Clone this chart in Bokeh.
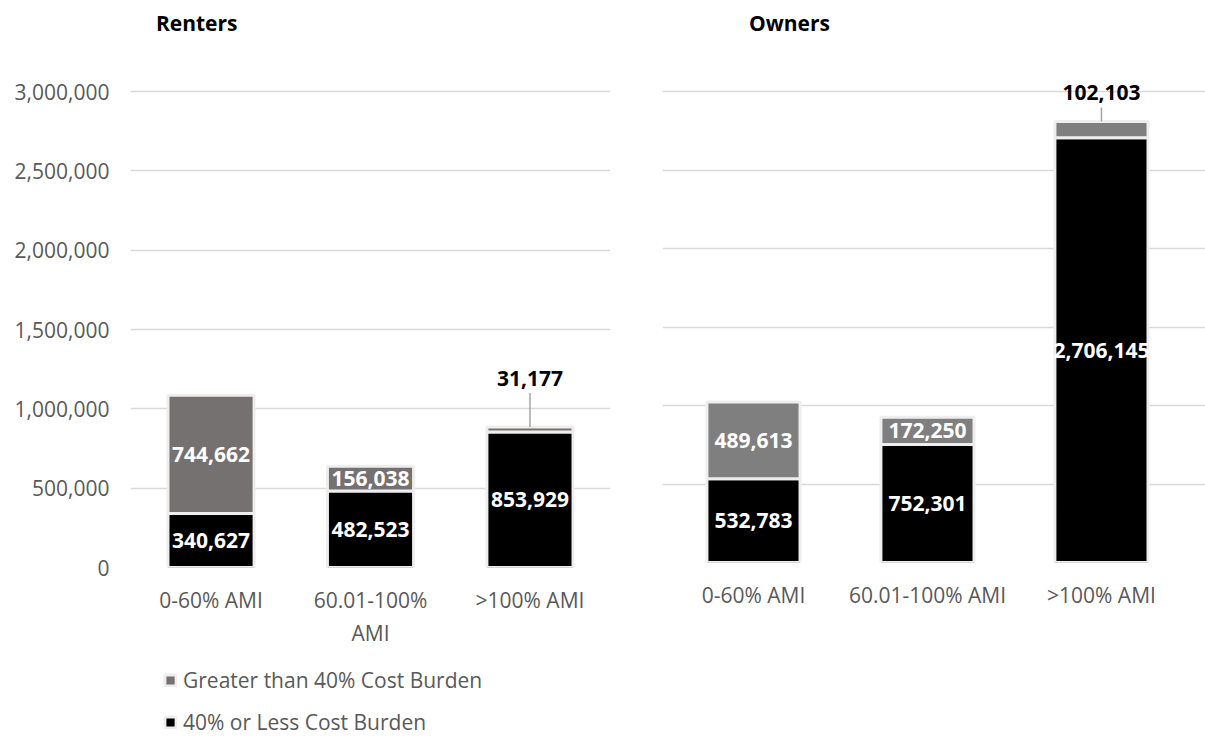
from bokeh.plotting import figure
from bokeh.models import (ColumnDataSource, Range1d, FixedTicker, NumeralTickFormatter,
                          Legend, LegendItem, Label)
from bokeh.layouts import row, column
from bokeh.embed import file_html
from bokeh.resources import INLINE
from bokeh.core.properties import value

# ---------------- data ----------------
categories = ["0-60% AMI", "60.01-100% AMI", ">100% AMI"]
renters_tick_labels = ["0-60% AMI", "60.01-100%\nAMI", ">100% AMI"]
owners_tick_labels = ["0-60% AMI", "60.01-100% AMI", ">100% AMI"]
series_names = ["40% or Less Cost Burden", "Greater than 40% Cost Burden"]
renters_low = [340627, 482523, 853929]
renters_high = [744662, 156038, 31177]
owners_low = [532783, 752301, 2706145]
owners_high = [489613, 172250, 102103]
y_ticks = [0, 500000, 1000000, 1500000, 2000000, 2500000, 3000000]
panel_titles = ["Renters", "Owners"]

FONT = value("Open Sans")
TXT = "#595959"
GRID = "#d9d9d9"
EDGE = "#eeeeee"
RENT_GRAY = "#767171"
OWN_GRAY = "#7f7f7f"


def make_panel(title, low, high, tick_labels, width, height, border_left, border_right,
               frame_bottom_px, px_per_unit, x_start, x_end, bar_w, gray,
               title_x, label_off_px, leader_px, show_yaxis):
    y_end = frame_bottom_px / px_per_unit
    p = figure(width=width, height=height, output_backend="svg", toolbar_location=None,
               x_range=Range1d(x_start, x_end), y_range=Range1d(0, y_end),
               min_border_left=border_left, min_border_right=border_right,
               min_border_top=0, min_border_bottom=height - frame_bottom_px,
               y_axis_location="left" if show_yaxis else None)
    p.outline_line_color = None
    p.background_fill_color = "white"
    p.border_fill_color = "white"

    x = list(range(len(low)))
    src = ColumnDataSource(dict(x=x, low=low, high=high))
    rs = p.vbar_stack(["low", "high"], x="x", width=bar_w, source=src,
                      fill_color=["black", gray], line_color=EDGE, line_width=3)

    # labels
    lx, ly, lt = [], [], []
    ox, oy, ot = [], [], []
    for i in x:
        lx.append(i); ly.append(low[i] / 2); lt.append(f"{low[i]:,}")
        if high[i] >= 120000:
            lx.append(i); ly.append(low[i] + high[i] / 2); lt.append(f"{high[i]:,}")
        else:
            ox.append(i); oy.append(low[i] + high[i]); ot.append(f"{high[i]:,}")
    p.text(x="x", y="y", text="t", source=ColumnDataSource(dict(x=lx, y=ly, t=lt)),
           text_align="center", text_baseline="middle", text_color="white",
           text_font=FONT, text_font_style="bold", text_font_size="21px")
    p.text(x="x", y="y", text="t", source=ColumnDataSource(dict(x=ox, y=oy, t=ot)),
           text_align="center", text_baseline="middle", text_color="black",
           text_font=FONT, text_font_style="bold", text_font_size="21px",
           y_offset=-label_off_px)
    p.segment(x0=ox, x1=ox, y0=oy, y1=[v + leader_px / px_per_unit for v in oy],
              line_color="#a6a6a6", line_width=1.5)

    p.add_layout(Label(x=title_x, y=(frame_bottom_px - 22) / px_per_unit, text=title,
                       text_align="center", text_baseline="middle", text_font="Open Sans",
                       text_font_style="bold", text_font_size="21px", text_color="black"))

    # axes / grid
    p.xaxis.ticker = FixedTicker(ticks=x)
    p.xaxis.major_label_overrides = {i: tick_labels[i] for i in x}
    p.xaxis.axis_line_color = None
    p.xaxis.major_tick_line_color = None
    p.xaxis.minor_tick_line_color = None
    p.xaxis.major_label_text_font = "Open Sans"
    p.xaxis.major_label_text_font_size = "21px"
    p.xaxis.major_label_text_color = TXT
    p.xaxis.major_label_standoff = 12
    p.xgrid.grid_line_color = None
    p.ygrid.ticker = FixedTicker(ticks=y_ticks)
    p.ygrid.grid_line_color = GRID
    p.ygrid.grid_line_width = 1.3
    if show_yaxis:
        p.yaxis.ticker = FixedTicker(ticks=y_ticks)
        p.yaxis.formatter = NumeralTickFormatter(format="0,0")
        p.yaxis.axis_line_color = None
        p.yaxis.major_tick_line_color = None
        p.yaxis.minor_tick_line_color = None
        p.yaxis.major_label_text_font = "Open Sans"
        p.yaxis.major_label_text_font_size = "21px"
        p.yaxis.major_label_text_color = TXT
        p.yaxis.major_label_standoff = 15
    return p, rs, src


p1, rs1, src1 = make_panel(panel_titles[0], renters_low, renters_high, renters_tick_labels,
                           620, 650, 130, 10, 567, 476 / 3e6, -0.505, 2.505, 0.54, RENT_GRAY,
                           -0.09, 49, 34, True)
p2, rs2, src2 = make_panel(panel_titles[1], owners_low, owners_high, owners_tick_labels,
                           585, 736, 42, 0, 562, 471 / 3e6, -0.523, 2.598, 0.535, OWN_GRAY,
                           0.207, 29, 14, False)

# legend strip under the renters panel: degenerate (zero-size) bars that only
# provide the legend swatches
lg = figure(width=620, height=86, output_backend="svg", toolbar_location=None,
            x_range=Range1d(-0.5, 2.5), y_range=Range1d(5e8, 6e8),
            x_axis_location=None, y_axis_location=None,
            min_border_left=0, min_border_right=0, min_border_top=0, min_border_bottom=0)
lg.outline_line_color = None
lg.xgrid.visible = False
lg.ygrid.visible = False
r_hi = lg.vbar(x="x", top="high", bottom="high", width=0, source=src1,
               fill_color=RENT_GRAY, line_color=EDGE, line_width=3)
r_lo = lg.vbar(x="x", top="low", bottom="low", width=0, source=src1,
               fill_color="black", line_color=EDGE, line_width=3)
legend = Legend(items=[LegendItem(label=series_names[1], renderers=[r_hi]),
                       LegendItem(label=series_names[0], renderers=[r_lo])],
                location=(33, 0), orientation="vertical",
                glyph_width=14, glyph_height=14, label_standoff=6,
                label_text_font="Open Sans", label_text_font_size="21px",
                label_text_color=TXT, spacing=14, padding=0, margin=0,
                border_line_color=None, background_fill_alpha=0)
lg.add_layout(legend)

layout = row(column(p1, lg), p2)
open("out.html", "w").write(file_html(layout, INLINE))
